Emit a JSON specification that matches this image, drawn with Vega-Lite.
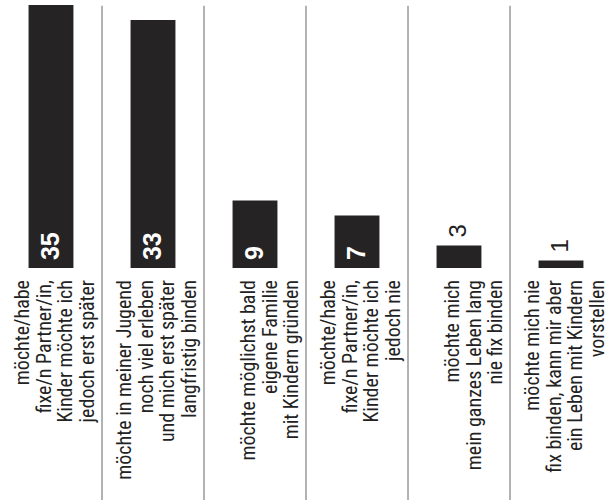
{
  "$schema": "https://vega.github.io/schema/vega-lite/v6.json",
  "width": 612,
  "height": 500,
  "padding": 0,
  "autosize": {"type": "none"},
  "background": "white",
  "config": {"view": {"stroke": null}},
  "data": {
    "values": [
      {"label": "möchte/habe\nfixe/n Partner/in,\nKinder möchte ich\njedoch erst später", "value": 35},
      {"label": "möchte in meiner Jugend\nnoch viel erleben\nund mich erst später\nlangfristig binden", "value": 33},
      {"label": "möchte möglichst bald\neigene Familie\nmit Kindern gründen", "value": 9},
      {"label": "möchte/habe\nfixe/n Partner/in,\nKinder möchte ich\njedoch nie", "value": 7},
      {"label": "möchte mich\nmein ganzes Leben lang\nnie fix binden", "value": 3},
      {"label": "möchte mich nie\nfix binden, kann mir aber\nein Leben mit Kindern\nvorstellen", "value": 1}
    ]
  },
  "layer": [
    {
      "mark": {"type": "bar", "color": "#262324", "width": {"band": 0.44}},
      "encoding": {
        "x": {"field": "label", "type": "nominal", "sort": null, "axis": null,
              "scale": {"paddingInner": 0, "paddingOuter": 0}},
        "y": {"field": "value", "type": "quantitative", "axis": null,
              "scale": {"domain": [-30.87, 35.67], "nice": false, "zero": false}},
        "y2": {"datum": 0}
      }
    },
    {
      "transform": [{"filter": "datum.value != 35"}],
      "mark": {"type": "rule", "color": "#666", "strokeWidth": 1},
      "encoding": {
        "x": {"field": "label", "type": "nominal", "sort": null, "bandPosition": 0},
        "y": {"datum": 34.9},
        "y2": {"datum": -31}
      }
    },
    {
      "transform": [{"filter": "datum.value >= 5"}],
      "mark": {"type": "text", "angle": 270, "align": "left", "baseline": "middle",
               "dx": 8, "color": "white", "fontWeight": "bold", "fontSize": 25,
               "font": "Liberation Sans"},
      "encoding": {
        "x": {"field": "label", "type": "nominal", "sort": null},
        "y": {"datum": 0},
        "text": {"field": "value", "type": "quantitative"}
      }
    },
    {
      "transform": [{"filter": "datum.value < 5"}],
      "mark": {"type": "text", "angle": 270, "align": "left", "baseline": "middle",
               "dx": 8, "color": "#222", "fontSize": 24, "font": "Liberation Sans"},
      "encoding": {
        "x": {"field": "label", "type": "nominal", "sort": null},
        "y": {"field": "value", "type": "quantitative"},
        "text": {"field": "value", "type": "quantitative"}
      }
    },
    {
      "transform": [{"filter": "length(split(datum.label, '\\n')) == 4"}],
      "mark": {"type": "text", "angle": 270, "align": "right", "baseline": "alphabetic",
               "lineBreak": "\n", "lineHeight": 21.5, "dx": -12, "dy": 29,
               "color": "#222", "fontSize": 20,
               "font": "Liberation Sans Narrow, Roboto Condensed, DejaVu Sans Condensed, Liberation Sans"},
      "encoding": {
        "x": {"field": "label", "type": "nominal", "sort": null, "bandPosition": 0},
        "y": {"datum": 0},
        "text": {"field": "label", "type": "nominal"}
      }
    },
    {
      "transform": [{"filter": "length(split(datum.label, '\\n')) == 3"}],
      "mark": {"type": "text", "angle": 270, "align": "right", "baseline": "alphabetic",
               "lineBreak": "\n", "lineHeight": 21.5, "dx": -12, "dy": 51,
               "color": "#222", "fontSize": 20,
               "font": "Liberation Sans Narrow, Roboto Condensed, DejaVu Sans Condensed, Liberation Sans"},
      "encoding": {
        "x": {"field": "label", "type": "nominal", "sort": null, "bandPosition": 0},
        "y": {"datum": 0},
        "text": {"field": "label", "type": "nominal"}
      }
    }
  ]
}
